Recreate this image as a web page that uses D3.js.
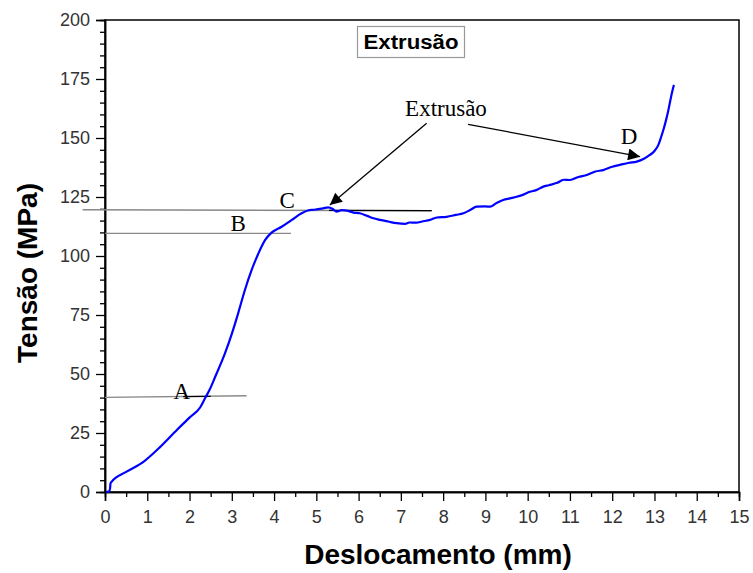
<!DOCTYPE html>
<html><head><meta charset="utf-8">
<script src="https://cdn.jsdelivr.net/npm/d3@7"></script>
<style>body{margin:0;background:#fff}svg{display:block}</style>
</head><body>
<svg id="c" width="753" height="573"></svg>
<script>
// ---- data ----
const displacement = [0.03,0.10,0.12,0.13,0.16,0.5,0.91,1.3,1.70,2.0,2.25,2.37,2.48,2.60,2.84,3.00,3.15,3.31,3.47,3.63,3.79,3.94,4.18,4.42,4.65,4.8,4.95,5.16,5.28,5.38,5.48,5.6,5.72,5.88,6.03,6.2,6.35,6.51,6.7,6.9,7.10,7.2,7.37,7.5,7.69,7.85,8.08,8.3,8.48,8.65,8.79,9.0,9.11,9.25,9.42,9.58,9.74,9.9,10.05,10.2,10.37,10.5,10.7,10.85,11.0,11.2,11.40,11.6,11.79,12.0,12.18,12.4,12.58,12.75,12.89,13.0,13.09,13.15,13.21,13.28,13.33,13.41,13.46];
const stress = [0,0.3,1.5,3.6,4.4,8.5,12.8,19,26.3,31.5,35.8,39.8,43.5,48.5,58.8,67.0,75.7,85.6,94.1,101.1,106.8,109.9,112.4,115.3,118.1,119.3,119.6,120.2,120.6,120.0,118.8,119.4,119.2,118.4,118.1,117.0,116.0,115.3,114.6,113.9,113.6,114.2,114.1,114.6,115.3,116.3,116.6,117.4,118.1,119.6,120.9,121.0,120.9,122.3,123.7,124.4,125.1,126.0,127.2,127.9,129.4,130.0,131.0,132.3,132.2,133.5,134.3,135.8,136.4,137.8,138.6,139.5,140.0,141.2,142.8,144.5,147.0,150,153.4,158,161.9,168.9,172.5];
const xTicks = [0,1,2,3,4,5,6,7,8,9,10,11,12,13,14,15];
const yTicks = [0,25,50,75,100,125,150,175,200];
// reference lines: [x1,y1,x2,y2]
const refLines = [[0,40.1,3.35,40.8],[0,109.6,4.4,109.6],[-0.53,119.6,7.73,119.2]];
const refLabels = ["A","B","C","D"];
const refLabelPos = [[1.82,39.2],[3.15,110.6],[4.31,120.3],[12.4,147.6]];
const arrows = [[7.61,156.2,5.32,121.6],[8.59,155.8,12.66,142.1]];
const annotText = "Extrusão";
const annotPos = [7.10,159.4];
const titleBox = "Extrusão";
const xTitle = "Deslocamento (mm)";
const yTitle = "Tensão (MPa)";

// ---- layout ----
const svg = d3.select("#c");
const L=105,R=739,T=20,B=492;
const x = d3.scaleLinear().domain([0,15]).range([L,R]);
const y = d3.scaleLinear().domain([0,200]).range([B,T]);
const sans = "Arial, 'Liberation Sans', sans-serif";
const serif = "'Times New Roman', 'Liberation Serif', serif";

svg.append("defs").append("marker").attr("id","ah").attr("viewBox","0 0 10 10")
  .attr("refX",10).attr("refY",5).attr("markerWidth",14).attr("markerHeight",12)
  .attr("markerUnits","userSpaceOnUse").attr("orient","auto")
  .append("path").attr("d","M0,0 L10,5 L0,10 Z").attr("fill","#000");

// frame
svg.append("rect").attr("x",L).attr("y",T).attr("width",R-L).attr("height",B-T)
  .attr("fill","none").attr("stroke","#000").attr("stroke-width",1.5);

// axes
const xAx = svg.append("g").attr("transform",`translate(0,${B})`)
  .call(d3.axisBottom(x).tickValues(xTicks).tickSize(9).tickFormat(d3.format("d")));
const xMinor = svg.append("g").attr("transform",`translate(0,${B})`)
  .call(d3.axisBottom(x).tickValues(d3.range(0.5,15,1)).tickSize(5).tickFormat(""));
const yAx = svg.append("g").attr("transform",`translate(${L},0)`)
  .call(d3.axisLeft(y).tickValues(yTicks).tickSize(9).tickFormat(d3.format("d")));
const yMinor = svg.append("g").attr("transform",`translate(${L},0)`)
  .call(d3.axisLeft(y).tickValues(d3.range(5,200,5).filter(v=>v%25!==0)).tickSize(5).tickFormat(""));
[xAx,xMinor,yAx,yMinor].forEach(g=>{
  g.select(".domain").attr("stroke","#000").attr("stroke-width",1.5);
  g.selectAll(".tick line").attr("stroke","#000").attr("stroke-width",1.3);
  g.selectAll("text").attr("font-family",sans).attr("font-size",18).attr("fill","#333");
});
xAx.selectAll("text").attr("dy","1.05em");
yAx.selectAll("text").attr("x",-15);

// axis titles
svg.append("text").attr("x",438).attr("y",564).attr("text-anchor","middle")
  .attr("font-family",sans).attr("font-weight","bold").attr("font-size",28).attr("fill","#000").text(xTitle);
svg.append("text").attr("transform","translate(37,273) rotate(-90)").attr("text-anchor","middle")
  .attr("font-family",sans).attr("font-weight","bold").attr("font-size",28).attr("fill","#000").text(yTitle);

// reference lines
svg.selectAll("line.ref").data(refLines).join("line").attr("class","ref")
  .attr("x1",d=>x(d[0])).attr("y1",d=>y(d[1])).attr("x2",d=>x(d[2])).attr("y2",d=>y(d[3]))
  .attr("stroke","#888").attr("stroke-width",1.4);
// darker portions
svg.append("line").attr("x1",x(5.3)).attr("y1",y(119.3)).attr("x2",x(7.73)).attr("y2",y(119.2))
  .attr("stroke","#000").attr("stroke-width",1.3);
svg.append("line").attr("x1",x(1.85)).attr("y1",y(40.45)).attr("x2",x(2.5)).attr("y2",y(40.55))
  .attr("stroke","#000").attr("stroke-width",1.3);

// curve
svg.append("path").datum(displacement.map((d,i)=>[d,stress[i]]))
  .attr("d",d3.line().curve(d3.curveMonotoneX).x(d=>x(d[0])).y(d=>y(d[1])))
  .attr("fill","none").attr("stroke","#0000ff").attr("stroke-width",2.2).attr("stroke-linejoin","round");

// letters
svg.selectAll("text.lbl").data(refLabels).join("text").attr("class","lbl")
  .attr("x",(d,i)=>x(refLabelPos[i][0])).attr("y",(d,i)=>y(refLabelPos[i][1]))
  .attr("text-anchor","middle").attr("font-family",serif).attr("font-size",23).attr("fill","#000").text(d=>d);

// arrows
svg.selectAll("line.arr").data(arrows).join("line").attr("class","arr")
  .attr("x1",d=>x(d[0])).attr("y1",d=>y(d[1])).attr("x2",d=>x(d[2])).attr("y2",d=>y(d[3]))
  .attr("stroke","#000").attr("stroke-width",1.3).attr("marker-end","url(#ah)");
svg.append("text").attr("x",x(annotPos[0])).attr("y",y(annotPos[1]))
  .attr("font-family",serif).attr("font-size",23).attr("fill","#000").text(annotText);

// title box
svg.append("rect").attr("x",357.5).attr("y",26.5).attr("width",107).attr("height",31)
  .attr("fill","#fff").attr("stroke","#999").attr("stroke-width",1.2);
svg.append("text").attr("x",411).attr("y",49).attr("text-anchor","middle")
  .attr("font-family",sans).attr("font-weight","bold").attr("font-size",20)
  .attr("textLength",95).attr("lengthAdjust","spacingAndGlyphs").attr("fill","#000").text(titleBox);
</script>
</body></html>
